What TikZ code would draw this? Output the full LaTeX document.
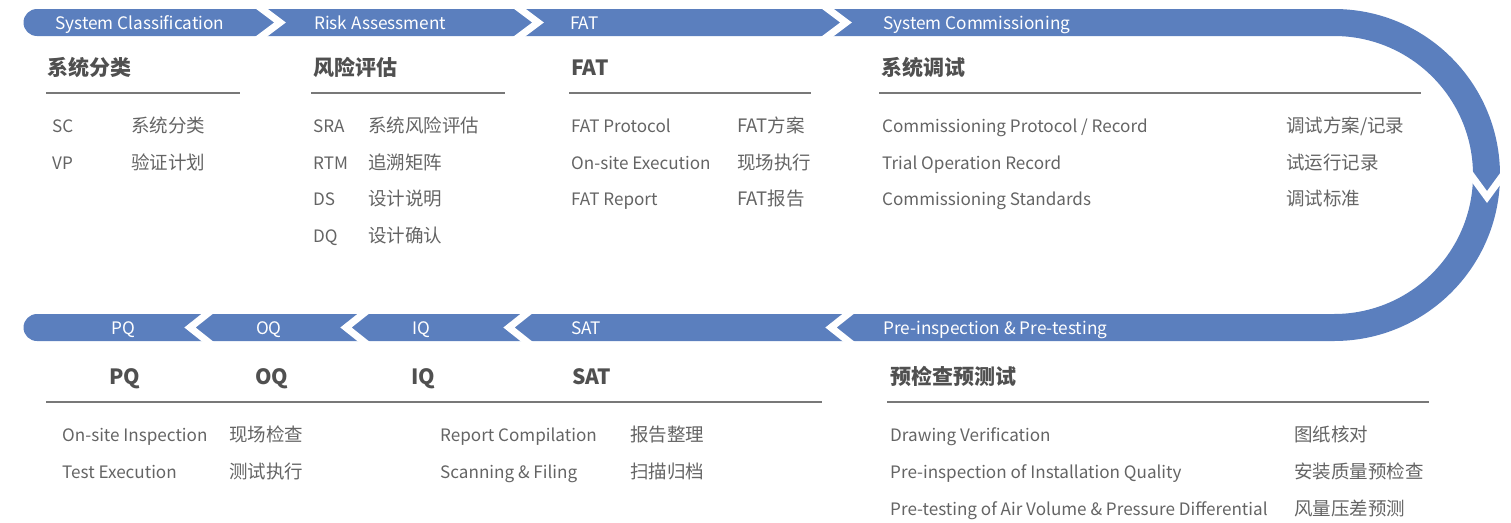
\documentclass[tikz,border=0pt]{standalone}
\usepackage{fontspec}
\setmainfont{Noto Sans CJK SC}
\definecolor{bandblue}{RGB}{91,127,190}
\definecolor{headgray}{RGB}{80,80,80}
\definecolor{txtgray}{RGB}{100,100,100}
\definecolor{rulegray}{RGB}{120,120,120}
\newcommand{\topchev}[2]{\draw[chev] (#1-5.3,5) -- (#1+18,22.5) -- (#1-5.3,40);}
\newcommand{\botchev}[2]{\draw[chev] (#1+5.3,309) -- (#1-18,327.5) -- (#1+5.3,346);}
\begin{document}
\begin{tikzpicture}[x=1pt,y=-1pt,
  band/.style={draw=bandblue, line width=27pt, line cap=round},
  chev/.style={draw=white, line width=7pt, line join=miter},
  bandlabel/.style={anchor=base west, inner sep=0pt, text=white, font=\fontsize{17.2}{20}\selectfont},
  head/.style={anchor=base west, inner sep=0pt, text=headgray, font=\fontsize{21}{24}\selectfont\bfseries},
  item/.style={anchor=base west, inner sep=0pt, text=txtgray, font=\fontsize{18.5}{20}\selectfont},
  eng/.style={anchor=base west, inner sep=0pt, text=txtgray, font=\fontsize{17.1}{20}\selectfont},
  rulestyle/.style={draw=rulegray, line width=1.5pt}]
\useasboundingbox (0,0) rectangle (1511,522);
% band
\coordinate (bs) at (37,22.5);
\coordinate (ba) at (1334,22.5);
\coordinate (be) at (37,327.5);
\draw[band] (bs) -- (ba) arc (-90:90:152.5) -- (be);
% chevrons
\topchev{262}{}
\topchev{520}{}
\topchev{828}{}
\botchev{208}{}
\botchev{364}{}
\botchev{527}{}
\botchev{849}{}
\draw[chev] (1468,171) -- (1487,197) -- (1506,171);
% band labels
\node[bandlabel] (b1) at (55,29) {System Classification};
\node[bandlabel] (b2) at (314,29) {Risk Assessment};
\node[bandlabel] (b3) at (570,29) {FAT};
\node[bandlabel] (b4) at (883,29) {System Commissioning};
\node[bandlabel] (b5) at (111,334) {PQ};
\node[bandlabel] (b6) at (256,334) {OQ};
\node[bandlabel] (b7) at (412,334) {IQ};
\node[bandlabel] (b8) at (571,334) {SAT};
\node[bandlabel] (b9) at (883,334) {Pre-inspection \& Pre-testing};
% top headers
\node[head] (h1) at (47,75) {系统分类};
\node[head] (h2) at (313,75) {风险评估};
\node[head] (h3) at (571,75) {FAT};
\node[head] (h4) at (881,75) {系统调试};
\coordinate (r1a) at (46,93); \coordinate (r1b) at (240,93);
\coordinate (r2a) at (311,93); \coordinate (r2b) at (505,93);
\coordinate (r3a) at (569,93); \coordinate (r3b) at (811,93);
\coordinate (r4a) at (879,93); \coordinate (r4b) at (1421,93);
\draw[rulestyle] (r1a) -- (r1b);
\draw[rulestyle] (r2a) -- (r2b);
\draw[rulestyle] (r3a) -- (r3b);
\draw[rulestyle] (r4a) -- (r4b);
% col 1
\node[eng] (c1a) at (52,132) {SC};
\node[item] (c1b) at (131,132) {系统分类};
\node[eng] (c1c) at (52,169) {VP};
\node[item] (c1d) at (131,169) {验证计划};
% col 2
\node[eng] (c2a) at (313,132) {SRA};
\node[item] (c2b) at (368,132) {系统风险评估};
\node[eng] (c2c) at (313,169) {RTM};
\node[item] (c2d) at (368,169) {追溯矩阵};
\node[eng] (c2e) at (313,205) {DS};
\node[item] (c2f) at (368,205) {设计说明};
\node[eng] (c2g) at (313,242) {DQ};
\node[item] (c2h) at (368,242) {设计确认};
% col 3
\node[eng] (c3a) at (571,132) {FAT Protocol};
\node[item] (c3b) at (737,132) {FAT方案};
\node[eng] (c3c) at (571,169) {On-site Execution};
\node[item] (c3d) at (737,169) {现场执行};
\node[eng] (c3e) at (571,205) {FAT Report};
\node[item] (c3f) at (737,205) {FAT报告};
% col 4
\node[eng] (c4a) at (882,132) {Commissioning Protocol / Record};
\node[item] (c4b) at (1286,132) {调试方案/记录};
\node[eng] (c4c) at (882,169) {Trial Operation Record};
\node[item] (c4d) at (1286,169) {试运行记录};
\node[eng] (c4e) at (882,205) {Commissioning Standards};
\node[item] (c4f) at (1286,205) {调试标准};
% bottom headers
\node[head] (h5) at (109,384) {PQ};
\node[head] (h6) at (255,384) {OQ};
\node[head] (h7) at (411,384) {IQ};
\node[head] (h8) at (572,384) {SAT};
\node[head] (h9) at (890,384) {预检查预测试};
\coordinate (r5a) at (46,402); \coordinate (r5b) at (822,402);
\coordinate (r6a) at (887,402); \coordinate (r6b) at (1429,402);
\draw[rulestyle] (r5a) -- (r5b);
\draw[rulestyle] (r6a) -- (r6b);
% bottom rows
\node[eng] (d1a) at (62,441) {On-site Inspection};
\node[item] (d1b) at (229,441) {现场检查};
\node[eng] (d1c) at (62,478) {Test Execution};
\node[item] (d1d) at (229,478) {测试执行};
\node[eng] (d2a) at (440,441) {Report Compilation};
\node[item] (d2b) at (630,441) {报告整理};
\node[eng] (d2c) at (440,478) {Scanning \& Filing};
\node[item] (d2d) at (630,478) {扫描归档};
\node[eng] (d3a) at (890,441) {Drawing Verification};
\node[item] (d3b) at (1294,441) {图纸核对};
\node[eng] (d3c) at (890,478) {Pre-inspection of Installation Quality};
\node[item] (d3d) at (1294,478) {安装质量预检查};
\node[eng] (d3e) at (890,515) {Pre-testing of Air Volume \& Pressure Differential};
\node[item] (d3f) at (1294,515) {风量压差预测};
\end{tikzpicture}
\end{document}
